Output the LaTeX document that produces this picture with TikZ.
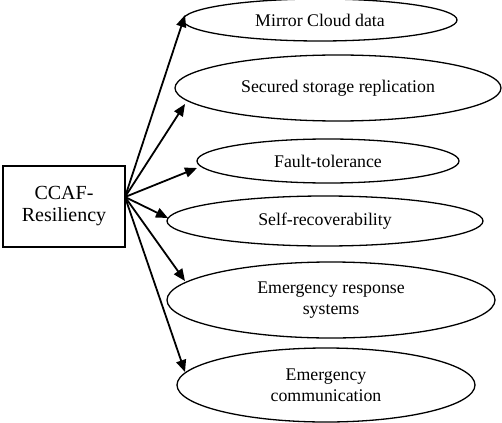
\documentclass[tikz,border=0pt]{standalone}
\usepackage{fontspec}
\setmainfont{Liberation Serif}
\usetikzlibrary{shapes.geometric,arrows.meta}
\begin{document}
\begin{tikzpicture}[x=1pt,y=-1pt,
  oval/.style={ellipse,draw,line width=1.3pt,inner sep=0pt,align=center,
    font=\fontsize{17.8}{21}\selectfont},
  conn/.style={line width=1.8pt,-{Triangle[length=12pt,width=10pt]}}]
\useasboundingbox (0,0) rectangle (502,422);
\node[draw,line width=1.3pt,minimum width=122pt,minimum height=81pt,inner sep=0pt,
  align=center,font=\fontsize{20}{22}\selectfont] (box) at (64,206.5) {CCAF-\\Resiliency};
\node[oval,minimum width=274pt,minimum height=42pt] (e1) at (320,20) {Mirror Cloud data};
\node[oval,minimum width=326pt,minimum height=66pt] (e2) at (338,88) {Secured storage replication};
\node[oval,minimum width=262pt,minimum height=44pt] (e3) at (328,161) {Fault-tolerance};
\node[oval,minimum width=316pt,minimum height=50pt] (e4) at (325,221) {Self-recoverability};
\node[oval,minimum width=328pt,minimum height=76pt] (e5) at (331,300) {Emergency response\\systems};
\node[oval,minimum width=298pt,minimum height=74pt] (e6) at (326,385) {Emergency\\communication};
\coordinate (s) at (125,197);
\coordinate (t1) at (185,15);
\coordinate (t2) at (185,104);
\coordinate (t3) at (197,168);
\coordinate (t4) at (168,218);
\coordinate (t5) at (185,281);
\coordinate (t6) at (185,372);
\foreach \t in {t1,t2,t3,t4,t5,t6} \draw[conn] (s) -- (\t);
\end{tikzpicture}
\end{document}
